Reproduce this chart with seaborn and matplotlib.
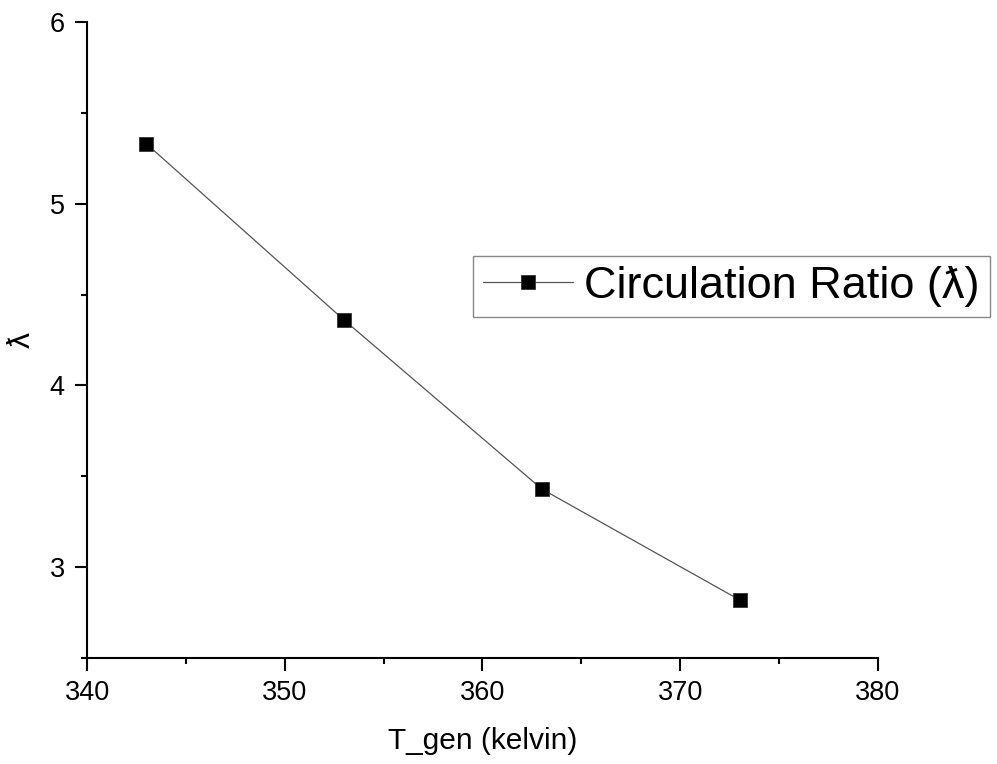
import matplotlib
matplotlib.use("Agg")
import matplotlib.pyplot as plt
import seaborn as sns
import pandas as pd
from matplotlib.ticker import MultipleLocator

t_gen = [343, 353, 363, 373]
circulation_ratio = [5.33, 4.36, 3.43, 2.82]
series_label = "Circulation Ratio (\u019b)"
x_label = "T_gen (kelvin)"
y_label = "\u019b"
x_ticks = [340, 350, 360, 370, 380]
y_ticks = [3, 4, 5, 6]

sns.set_style("ticks")
plt.rcParams['font.family'] = ['Liberation Sans', 'DejaVu Sans']
plt.rcParams['text.color'] = 'black'
plt.rcParams['axes.labelcolor'] = 'black'

df = pd.DataFrame({"T_gen": t_gen, "ratio": circulation_ratio})

fig = plt.figure(figsize=(9.97, 7.64), dpi=100)
ax = fig.add_axes([0.0873, 0.1387, 0.8806 - 0.0873, 0.9712 - 0.1387])

sns.lineplot(data=df, x="T_gen", y="ratio", ax=ax, color="#555555", linewidth=0.9,
             marker="s", markersize=10, markerfacecolor="black",
             markeredgecolor="#333333", markeredgewidth=0.6, label=series_label)

ax.set_xlim(340, 380)
ax.set_ylim(2.5, 6)
ax.set_xticks(x_ticks)
ax.set_yticks(y_ticks)
ax.xaxis.set_minor_locator(MultipleLocator(5))
ax.yaxis.set_minor_locator(MultipleLocator(0.5))

for s in ["top", "right"]:
    ax.spines[s].set_visible(False)
for s in ["left", "bottom"]:
    ax.spines[s].set_linewidth(1.5)
    ax.spines[s].set_color("black")

ax.tick_params(axis="both", which="major", direction="out", length=9, width=1.5,
               labelsize=19.5, colors="black", labelcolor="black", pad=7)
ax.tick_params(axis="both", which="minor", direction="out", length=4.5, width=1.5,
               colors="black")

ax.set_xlabel(x_label, fontsize=21.5, labelpad=15, color="black")
ax.set_ylabel(y_label, fontsize=23, labelpad=9, color="black")

leg = ax.legend(loc="upper left", bbox_to_anchor=(0.4744, 0.6649),
                bbox_transform=fig.transFigure, fontsize=32.5, frameon=True,
                fancybox=False, edgecolor="#888888", framealpha=1,
                handlelength=2.0, handletextpad=0.25, borderpad=0.22,
                borderaxespad=0, labelcolor="black")

fig.savefig("out.png", dpi=100)
